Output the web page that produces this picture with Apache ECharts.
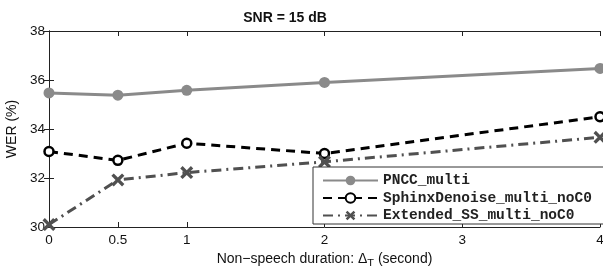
<!DOCTYPE html>
<html>
<head>
<meta charset="utf-8">
<script src="https://cdn.jsdelivr.net/npm/echarts@6/dist/echarts.min.js"></script>
<style>
  html, body { margin: 0; padding: 0; background: #fff; }
  #chart { width: 603px; height: 266px; }
</style>
</head>
<body>
<div id="chart"></div>
<script>
// durations (s) on the x axis
const durations = [0, 0.5, 1, 2, 4];
const xTicks = [0, 0.5, 1, 2, 3, 4];

const pnccMulti = [35.47, 35.38, 35.58, 35.9, 36.47];
const sphinxDenoise = [33.08, 32.72, 33.42, 33.0, 34.5];
const extendedSS = [30.1, 31.92, 32.22, 32.66, 33.66];

const pair = (vals) => vals.map((v, i) => [durations[i], v]);

const crossPath = 'path://M0,1.8 L1.8,0 L5,3.2 L8.2,0 L10,1.8 L6.8,5 L10,8.2 L8.2,10 L5,6.8 L1.8,10 L0,8.2 L3.2,5 Z';

const font = 'Liberation Sans';
const chart = echarts.init(document.getElementById('chart'));

const tickStyle = { inside: true, length: 5, lineStyle: { color: '#222', width: 1 } };

const option = {
  animation: false,
  title: {
    text: 'SNR = 15 dB',
    left: 280, top: 6, textAlign: 'center',
    textStyle: { fontFamily: font, fontSize: 14, fontWeight: 'bold', color: '#111' }
  },
  grid: { left: 49, right: 3, top: 31, bottom: 39, outerBoundsMode: 'none', containLabel: false },
  xAxis: [{
    type: 'value', min: 0, max: 4,
    name: 'Non\u2212speech duration: \u0394{sub|T} (second)',
    nameLocation: 'middle', nameGap: 16,
    nameTextStyle: { fontFamily: font, fontSize: 14, color: '#111',
      rich: { sub: { fontFamily: font, fontSize: 11, color: '#111', padding: [10, 0, 0, 0] } } },
    axisLine: { lineStyle: { color: '#222' } },
    axisTick: Object.assign({ customValues: xTicks }, tickStyle),
    axisLabel: { customValues: xTicks, fontFamily: font, fontSize: 13.5, color: '#111', margin: 6 },
    splitLine: { show: false }
  }, {
    type: 'value', min: 0, max: 4, position: 'top',
    axisLine: { lineStyle: { color: '#222' } },
    axisTick: Object.assign({ customValues: xTicks }, tickStyle),
    axisLabel: { show: false },
    splitLine: { show: false }
  }],
  yAxis: [{
    type: 'value', min: 30, max: 38, interval: 2,
    name: 'WER (%)', nameLocation: 'middle', nameGap: 25,
    nameTextStyle: { fontFamily: font, fontSize: 14, color: '#111' },
    axisLine: { show: true, lineStyle: { color: '#222' } },
    axisTick: tickStyle,
    axisLabel: { fontFamily: font, fontSize: 13.5, color: '#111', margin: 4 },
    splitLine: { show: false }
  }, {
    type: 'value', min: 30, max: 38, interval: 2, position: 'right',
    axisLine: { show: true, lineStyle: { color: '#222' } },
    axisTick: tickStyle,
    axisLabel: { show: false },
    splitLine: { show: false }
  }],
  legend: {
    orient: 'vertical',
    left: 313, top: 167,
    padding: [6, 12, 1, 9],
    itemGap: 2.5,
    itemWidth: 55, itemHeight: 12,
    backgroundColor: '#fff',
    borderColor: '#333', borderWidth: 1,
    textStyle: { fontFamily: 'Liberation Mono', fontSize: 14.5, fontWeight: 'bold', color: '#222' },
    data: ['PNCC_multi', 'SphinxDenoise_multi_noC0', 'Extended_SS_multi_noC0']
  },
  series: [{
    name: 'PNCC_multi', type: 'line', data: pair(pnccMulti),
    symbol: 'circle', symbolSize: 11,
    lineStyle: { color: '#8a8a8a', width: 3 },
    itemStyle: { color: '#8a8a8a' }
  }, {
    name: 'SphinxDenoise_multi_noC0', type: 'line', data: pair(sphinxDenoise),
    symbol: 'circle', symbolSize: 9,
    lineStyle: { color: '#000', width: 3, type: [9, 6] },
    itemStyle: { color: '#fff', borderColor: '#000', borderWidth: 2.5 }
  }, {
    name: 'Extended_SS_multi_noC0', type: 'line', data: pair(extendedSS),
    symbol: crossPath, symbolSize: 13,
    lineStyle: { color: '#505050', width: 3, type: [10, 5, 2, 5] },
    itemStyle: { color: '#505050' }
  }]
};

chart.setOption(option);
</script>
</body>
</html>
